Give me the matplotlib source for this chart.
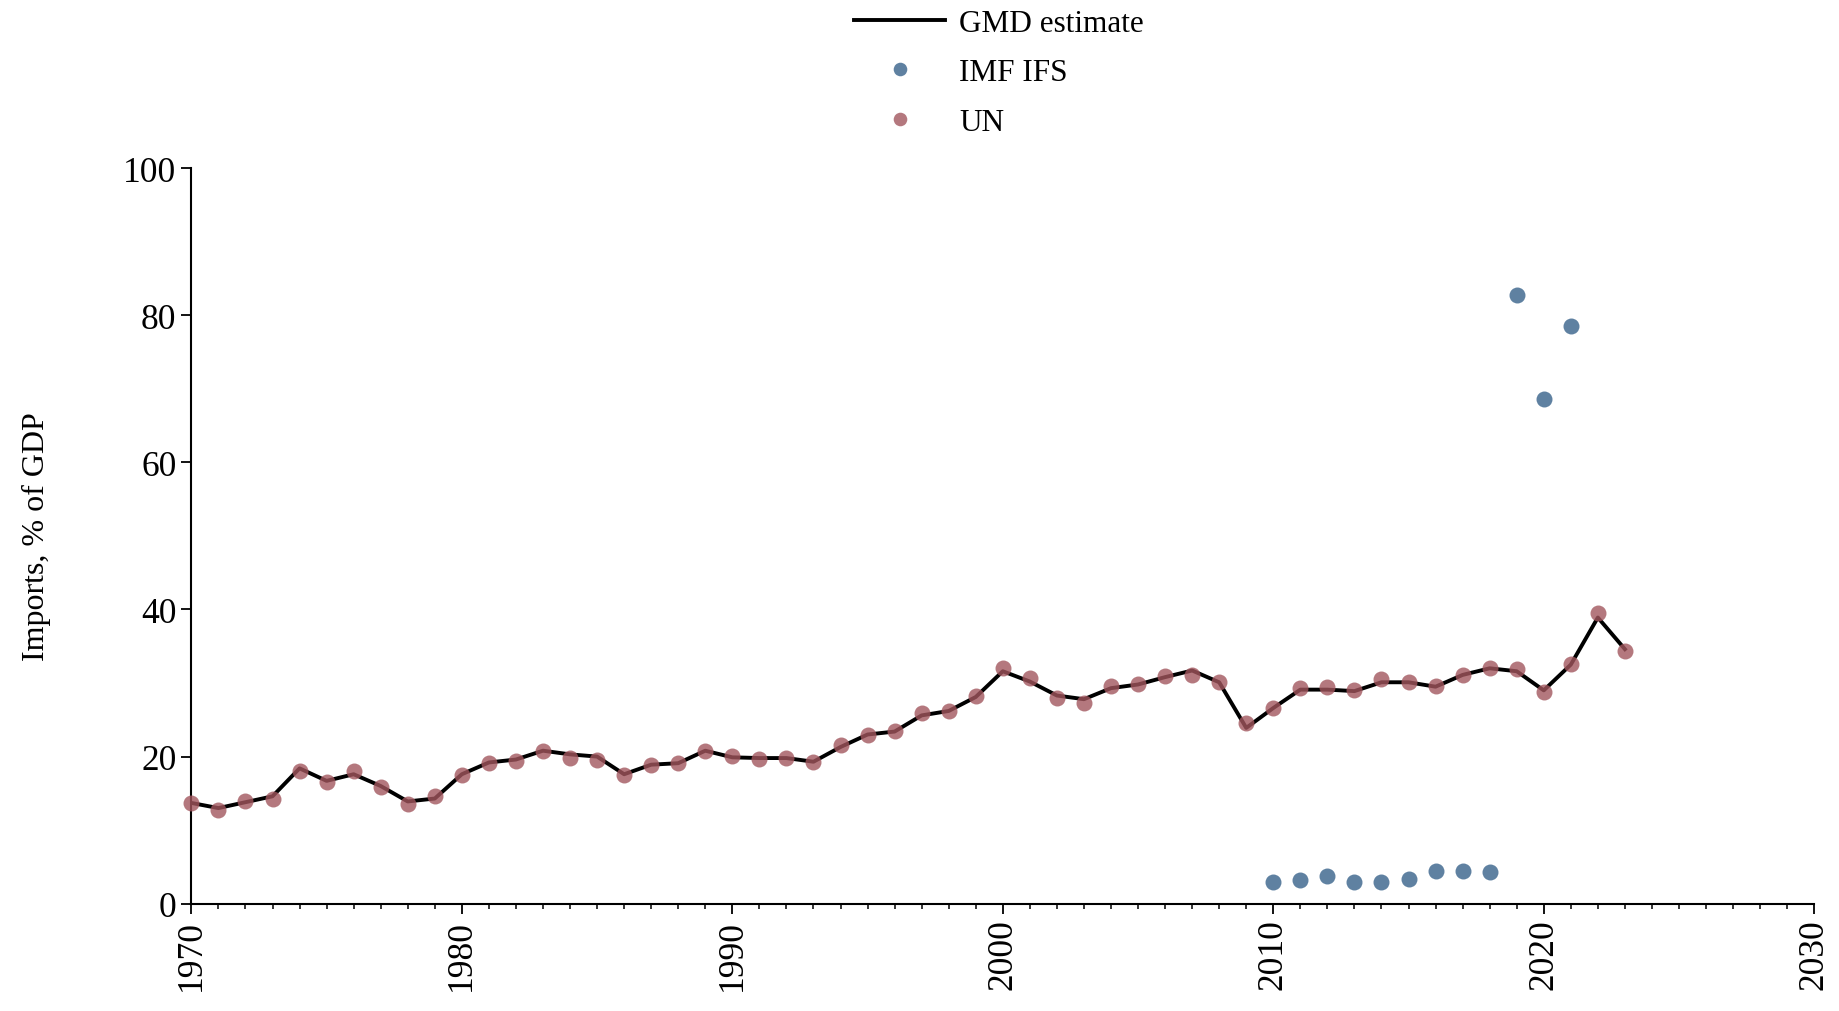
import matplotlib
matplotlib.use("Agg")
import matplotlib.pyplot as plt
from matplotlib.ticker import MultipleLocator

plt.rcParams["font.family"] = ["Liberation Serif", "DejaVu Serif"]

# GMD estimate (line), UN and IMF IFS source points, imports in % of GDP
years = list(range(1970, 2024))
gmd = [13.7, 13.0, 13.8, 14.6, 18.4, 16.7, 17.6, 16.0, 13.9, 14.3,
       17.6, 19.2, 19.6, 20.8, 20.3, 20.0, 17.6, 18.9, 19.1, 20.8,
       19.9, 19.8, 19.8, 19.3, 21.3, 23.0, 23.4, 25.6, 26.2, 28.1,
       31.6, 30.2, 28.3, 27.8, 29.3, 29.8, 30.8, 31.7, 30.1, 23.9,
       26.6, 29.1, 29.1, 28.9, 30.1, 30.1, 29.5, 31.1, 32.0, 31.6,
       29.0, 32.5, 38.9, 34.6]
un = [13.7, 12.7, 13.9, 14.3, 18.1, 16.5, 18.1, 15.9, 13.5, 14.6,
      17.5, 19.1, 19.4, 20.7, 19.8, 19.5, 17.5, 18.9, 19.1, 20.7,
      20.1, 19.7, 19.8, 19.3, 21.6, 22.9, 23.5, 25.9, 26.2, 28.3,
      32.1, 30.7, 28.0, 27.3, 29.6, 29.9, 30.9, 31.1, 30.2, 24.6,
      26.6, 29.3, 29.5, 29.0, 30.5, 30.2, 29.6, 31.1, 32.1, 31.9,
      28.8, 32.6, 39.5, 34.4]
imf_years = list(range(2010, 2022))
imf = [2.9, 3.2, 3.8, 2.9, 2.9, 3.3, 4.5, 4.4, 4.3, 82.8, 68.6, 78.5]

UN_COLOR = "#a2565e"
IMF_COLOR = "#4d7397"

fig = plt.figure(figsize=(18.4, 10.12), dpi=100)
ax = fig.add_axes([0.104, 0.106, 0.882, 0.727])

ax.plot(years, gmd, color="black", lw=2.8, label="GMD estimate", zorder=2)
ax.plot(imf_years, imf, ls="none", marker="o", ms=11.5, color=IMF_COLOR,
        alpha=0.9, mew=0, label="IMF IFS", zorder=3, clip_on=False)
ax.plot(years, un, ls="none", marker="o", ms=11.5, color=UN_COLOR,
        alpha=0.8, mew=0, label="UN", zorder=3, clip_on=False)

ax.set_xlim(1970, 2030)
ax.set_ylim(0, 100)
ax.xaxis.set_major_locator(MultipleLocator(10))
ax.xaxis.set_minor_locator(MultipleLocator(1))
ax.yaxis.set_major_locator(MultipleLocator(20))

for side in ["top", "right"]:
    ax.spines[side].set_visible(False)
for side in ["left", "bottom"]:
    ax.spines[side].set_linewidth(1.5)

ax.tick_params(axis="both", which="major", length=7.2, width=1.3,
               labelsize=25.5, pad=3.5)
ax.tick_params(axis="x", which="minor", length=3.3, width=1.1)
ax.tick_params(axis="x", which="major", labelrotation=90)

ax.set_ylabel("Imports, % of GDP", fontsize=23, labelpad=52)

fig.legend(loc="upper center", bbox_to_anchor=(0.543, 1.012), frameon=False,
           fontsize=22.5, handlelength=2.9, handletextpad=0.45,
           labelspacing=0.66, markerscale=0.85, borderpad=0.2)

fig.savefig("out.png", dpi=100)
